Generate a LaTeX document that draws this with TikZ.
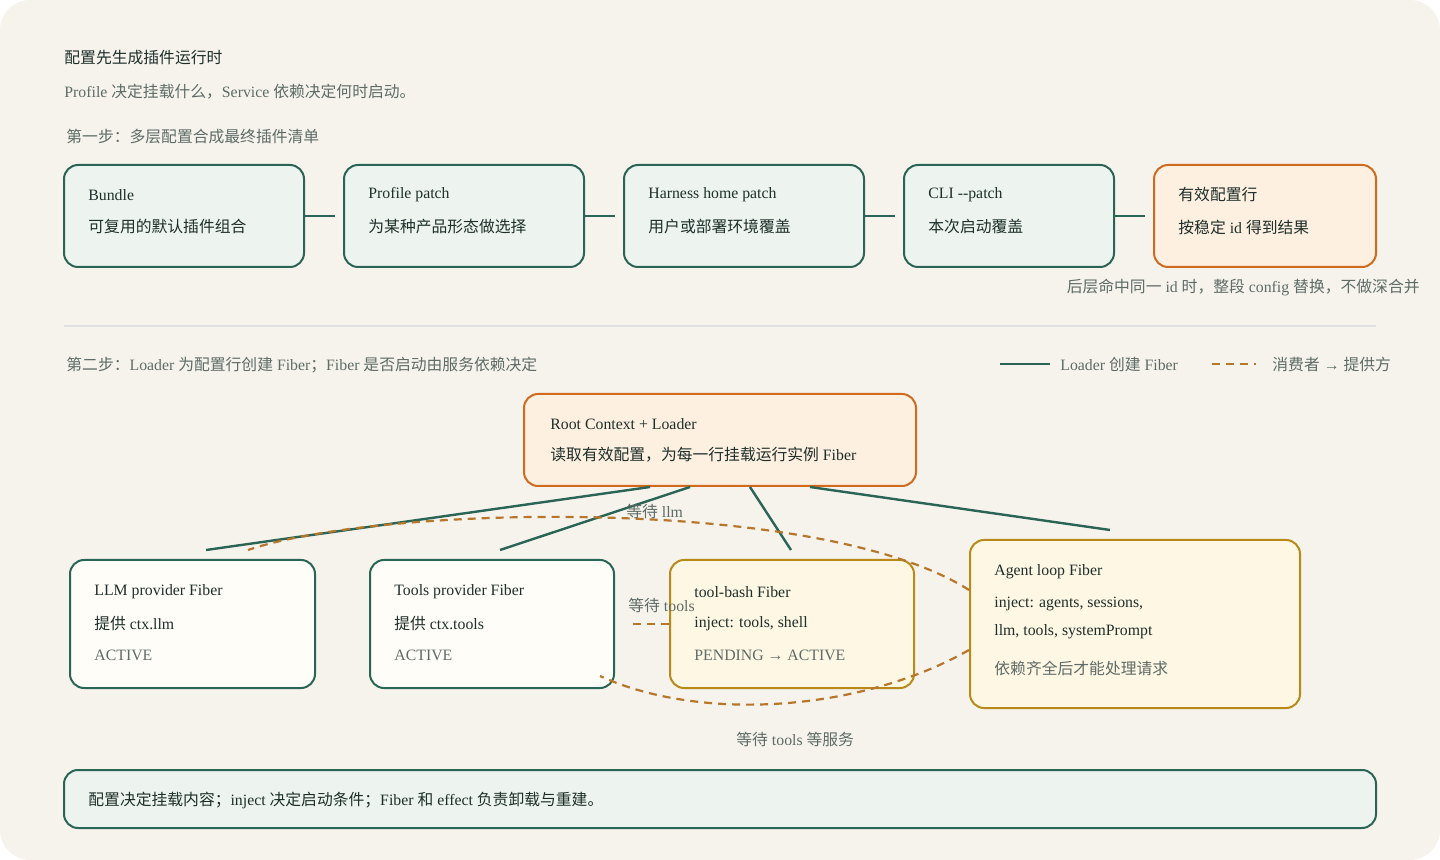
\documentclass[tikz,border=0pt]{standalone}
\usepackage{fontspec}
\setmainfont{Liberation Serif}
\newfontfamily\cjk{Noto Sans CJK SC}
\newcommand{\zh}[1]{{\cjk #1}}
\usetikzlibrary{calc}
\definecolor{bgpaper}{HTML}{F6F3EC}
\definecolor{deepgreen}{HTML}{2A6455}
\definecolor{palegreen}{HTML}{EDF4EF}
\definecolor{rust}{HTML}{D06A1F}
\definecolor{paleorange}{HTML}{FDF0E0}
\definecolor{ochre}{HTML}{B98A1A}
\definecolor{paleyellow}{HTML}{FEF7E4}
\definecolor{dashbrown}{HTML}{B8762A}
\definecolor{inkdark}{HTML}{1E2E2A}
\definecolor{inkgrey}{HTML}{5E6B66}
\begin{document}
\begin{tikzpicture}[
    x=0.5pt, y=-0.5pt,
    font=\fontsize{7.9}{9.5}\selectfont,
    box/.style={draw, line width=1pt, rounded corners=7pt, inner sep=0pt},
    stepbox/.style={box, draw=deepgreen, fill=palegreen},
    hotbox/.style={box, draw=rust, fill=paleorange},
    fiberbox/.style={box, draw=deepgreen, fill=white!70!paleyellow},
    waitbox/.style={box, draw=ochre, fill=paleyellow},
    txt/.style={anchor=west, inner sep=0pt, text=inkdark},
    note/.style={anchor=west, inner sep=0pt, text=inkgrey},
    link/.style={draw=deepgreen, line width=1.2pt},
    needs/.style={draw=dashbrown, line width=1.1pt, dash pattern=on 4pt off 3pt}
]
% background
\fill[bgpaper, rounded corners=15pt] (0,0) rectangle (1440,860);
\useasboundingbox (0,0) rectangle (1440,860);

% heading
\node[txt] (title) at (64,58) {\zh{配置先生成插件运行时}};
\node[note] (subtitle) at (64,92) {Profile \zh{决定挂载什么，}Service \zh{依赖决定何时启动。}};
\node[note] (step1) at (66,137) {\zh{第一步：多层配置合成最终插件清单}};

% step one: layered config
\node[stepbox, minimum width=120pt, minimum height=51pt] (bundle) at (184,216) {};
\node[stepbox, minimum width=120pt, minimum height=51pt] (profile) at (464,216) {};
\node[stepbox, minimum width=120pt, minimum height=51pt] (harness) at (744,216) {};
\node[stepbox, minimum width=105pt, minimum height=51pt] (cli) at (1009,216) {};
\node[hotbox, minimum width=111pt, minimum height=51pt] (effective) at (1265,216) {};

\node[txt] at (88,195) {Bundle};
\node[txt] at (88,227) {\zh{可复用的默认插件组合}};
\node[txt] at (368,195) {Profile patch};
\node[txt] at (368,227) {\zh{为某种产品形态做选择}};
\node[txt] at (648,195) {Harness home patch};
\node[txt] at (648,227) {\zh{用户或部署环境覆盖}};
\node[txt] at (928,195) {CLI {-}{-}patch};
\node[txt] at (928,227) {\zh{本次启动覆盖}};
\node[txt] at (1178,195) {\zh{有效配置行}};
\node[txt] at (1178,227) {\zh{按稳定}~id \zh{得到结果}};

\draw[link, shorten >=4pt] (bundle) -- (profile);
\draw[link, shorten >=4pt] (profile) -- (harness);
\draw[link, shorten >=4pt] (harness) -- (cli);
\draw[link, shorten >=4pt] (cli) -- (effective);

\node[note, anchor=east] (override) at (1420,287) {\zh{后层命中同一}~id \zh{时，整段}~config \zh{替换，不做深合并}};
\draw[draw=black!12, line width=0.8pt] (64,326) -- (1376,326);

% step two: fibers
\node[note] (step2) at (66,365) {\zh{第二步：}Loader \zh{为配置行创建}~Fiber\zh{；}Fiber \zh{是否启动由服务依赖决定}};
\coordinate (lgA) at (1000,364);
\coordinate (lgB) at (1050,364);
\coordinate (lgC) at (1212,364);
\coordinate (lgD) at (1256,364);
\draw[link] (lgA) -- (lgB);
\node[note] at (1060,364) {Loader \zh{创建}~Fiber};
\draw[needs] (lgC) -- (lgD);
\node[note] at (1272,364) {\zh{消费者}~→~\zh{提供方}};

\node[hotbox, minimum width=196pt, minimum height=46pt] (root) at (720,440) {};
\node[txt] at (550,424) {Root Context + Loader};
\node[txt] at (550,455) {\zh{读取有效配置，为每一行挂载运行实例}~Fiber};

\node[fiberbox, minimum width=122.5pt, minimum height=64pt] (llm) at (192.5,624) {};
\node[fiberbox, minimum width=122pt, minimum height=64pt] (tools) at (492,624) {};
\node[waitbox, minimum width=122pt, minimum height=64pt] (bash) at (792,624) {};
\node[waitbox, minimum width=165pt, minimum height=84pt] (agent) at (1135,624) {};

\node[txt] at (94,592) {LLM provider Fiber};
\node[txt] at (94,624) {\zh{提供}~ctx.llm};
\node[note] at (94,655) {ACTIVE};
\node[txt] at (394,592) {Tools provider Fiber};
\node[txt] at (394,624) {\zh{提供}~ctx.tools};
\node[note] at (394,655) {ACTIVE};
\node[txt] at (694,592) {tool-bash Fiber};
\node[txt] at (694,624) {inject: tools, shell};
\node[note] at (694,655) {PENDING → ACTIVE};
\node[txt] at (994,572) {Agent loop Fiber};
\node[txt] at (994,604) {inject: agents, sessions,};
\node[txt] at (994,632) {llm, tools, systemPrompt};
\node[note] at (994,668) {\zh{依赖齐全后才能处理请求}};

% loader creates fibers
\coordinate (llmTop) at (206,550);
\coordinate (toolsTop) at (500,550);
\coordinate (bashTop) at (791,550);
\coordinate (agentTop) at (1110,530);
\draw[link] ($(root.south)+(-70,0)$) -- (llmTop);
\draw[link] ($(root.south)+(-30,0)$) -- (toolsTop);
\draw[link] ($(root.south)+(30,0)$) -- (bashTop);
\draw[link] ($(root.south)+(90,0)$) -- (agentTop);

% consumers wait on providers
\coordinate (llmEnd) at (248,550);
\coordinate (toolsEnd) at (628,624);
\coordinate (svcEnd) at (600,676);
\draw[needs] ($(agent.west)+(0,-34)$) .. controls (820,495) and (380,505) .. (llmEnd);
\draw[needs] (bash.west) -- (toolsEnd);
\draw[needs] ($(agent.west)+(0,26)$) .. controls (860,712) and (700,722) .. (svcEnd);
\node[note] at (626,511) {\zh{等待}~llm};
\node[note] at (628,605) {\zh{等待}~tools};
\node[note] at (736,739) {\zh{等待}~tools \zh{等服务}};

% summary
\node[stepbox, minimum width=656pt, minimum height=29pt] (summary) at (720,799) {};
\node[txt] at (88,800) {\zh{配置决定挂载内容；}inject \zh{决定启动条件；}Fiber \zh{和}~effect \zh{负责卸载与重建。}};
\end{tikzpicture}
\end{document}
